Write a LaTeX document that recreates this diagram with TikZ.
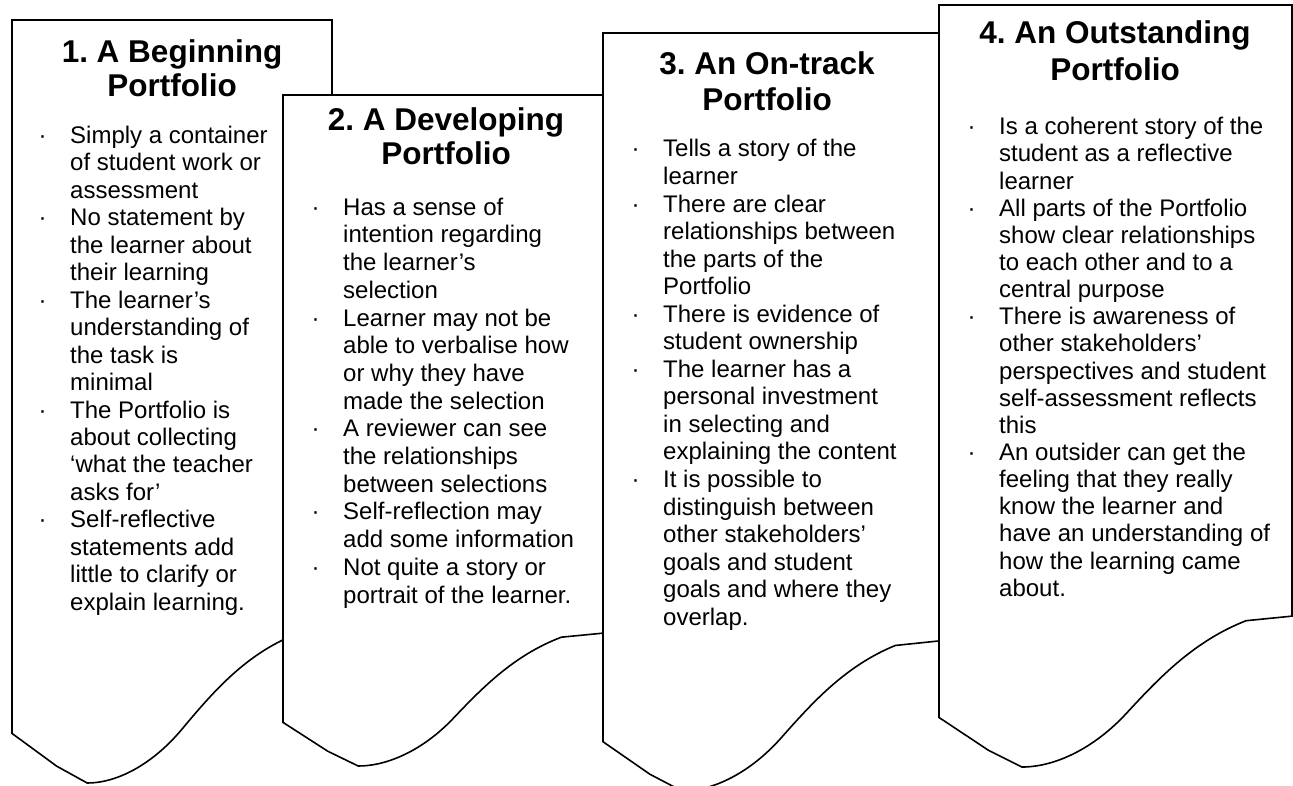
\documentclass[tikz,border=0pt]{standalone}
\usepackage{fontspec}
\setmainfont{Liberation Sans}
\frenchspacing
\newcommand\bulletmark{\llap{·\hspace{23.7pt}}}
\newcommand\docshape[4]{%
  \begin{scope}[shift={(#1,#2)}, xscale=#3, yscale=#4]
    \draw[outline] (0,0) -- (1,0) -- (1,0.802) -- (0.87,0.808)
      .. controls (0.72,0.835) and (0.62,0.885) .. (0.53,0.93)
      .. controls (0.44,0.975) and (0.33,1) .. (0.235,1)
      -- (0.14,0.978) -- (0,0.935) -- cycle;
  \end{scope}}
\begin{document}
\begin{tikzpicture}[x=1pt,y=-1pt,
  outline/.style={draw=black, fill=white, line width=1.6pt, line join=miter},
  ttl/.style={font=\bfseries\frenchspacing\fontsize{31.5}{#1}\selectfont, align=center, anchor=north, inner sep=0pt},
  bodytext/.style={font=\frenchspacing\fontsize{24}{#1}\selectfont, align=left, anchor=north west, inner sep=0pt}]
\useasboundingbox (0,0) rectangle (1293,785);
\clip (0,0) rectangle (1293,785);

% ---- card 1
\docshape{12}{20}{320}{763}
\node[ttl=31.3] (t1) at (172,{61.7-0.7*31.3}) {\strut 1. A Beginning\\Portfolio};
\node[bodytext=27.45] (b1) at (70,{143.3-0.7*27.45}) {\strut\bulletmark Simply a container\\
of student work or\\
assessment\\
\bulletmark No statement by\\
the learner about\\
their learning\\
\bulletmark The learner’s\\
understanding of\\
the task is\\
minimal\\
\bulletmark The Portfolio is\\
about collecting\\
‘what the teacher\\
asks for’\\
\bulletmark Self-reflective\\
statements add\\
little to clarify or\\
explain learning.};

% ---- card 2
\docshape{283}{95}{320}{671}
\node[ttl=32] (t2) at (446,{130-0.7*32}) {\strut 2. A Developing\\Portfolio};
\node[bodytext=27.7] (b2) at (343,{215-0.7*27.7}) {\strut\bulletmark Has a sense of\\
intention regarding\\
the learner’s\\
selection\\
\bulletmark Learner may not be\\
able to verbalise how\\
or why they have\\
made the selection\\
\bulletmark A reviewer can see\\
the relationships\\
between selections\\
\bulletmark Self-reflection may\\
add some information\\
\bulletmark Not quite a story or\\
portrait of the learner.};

% ---- card 3
\docshape{603}{33}{336}{758}
\node[ttl=35.5] (t3) at (767,{74.5-0.7*35.5}) {\strut 3. An On-track\\Portfolio};
\node[bodytext=27.55] (b3) at (663,{156.7-0.7*27.55}) {\strut\bulletmark Tells a story of the\\
learner\\
\bulletmark There are clear\\
relationships between\\
the parts of the\\
Portfolio\\
\bulletmark There is evidence of\\
student ownership\\
\bulletmark The learner has a\\
personal investment\\
in selecting and\\
explaining the content\\
\bulletmark It is possible to\\
distinguish between\\
other stakeholders’\\
goals and student\\
goals and where they\\
overlap.};

% ---- card 4
\docshape{939}{5}{353}{762}
\node[ttl=36.5] (t4) at (1115,{43.5-0.7*36.5}) {\strut 4. An Outstanding\\Portfolio};
\node[bodytext=27.15] (b4) at (999,{134.5-0.7*27.15}) {\strut\bulletmark Is a coherent story of the\\
student as a reflective\\
learner\\
\bulletmark All parts of the Portfolio\\
show clear relationships\\
to each other and to a\\
central purpose\\
\bulletmark There is awareness of\\
other stakeholders’\\
perspectives and student\\
self-assessment reflects\\
this\\
\bulletmark An outsider can get the\\
feeling that they really\\
know the learner and\\
have an understanding of\\
how the learning came\\
about.};
\end{tikzpicture}
\end{document}
